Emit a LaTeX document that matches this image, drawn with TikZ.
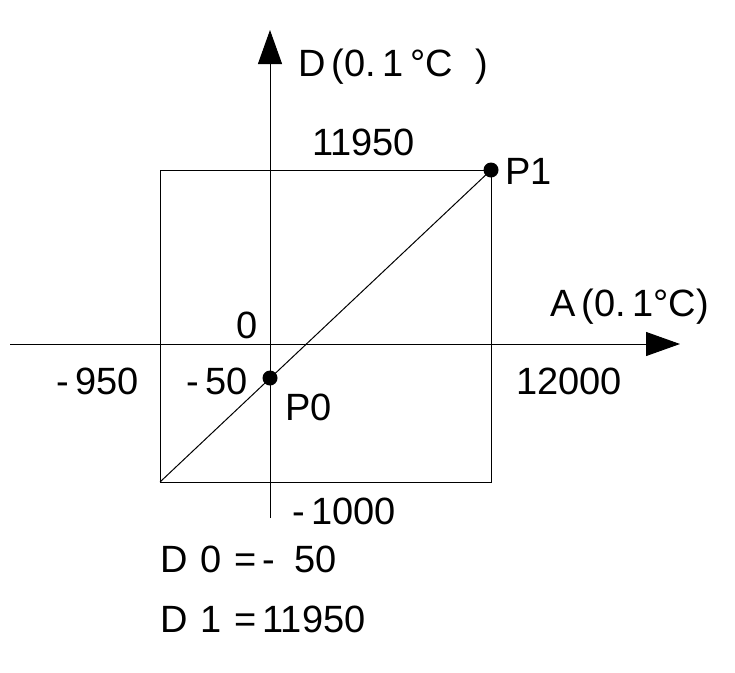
\documentclass[tikz,border=0pt]{standalone}
\usepackage{fontspec}
\setmainfont{Liberation Sans}
\usetikzlibrary{arrows.meta}
\begin{document}
\begin{tikzpicture}[x=1pt,y=-1pt,
  lbl/.style={font=\fontsize{38}{44}\selectfont, inner sep=0pt, anchor=base west},
  ax/.style={line width=1pt, -{Triangle[length=34pt,width=24pt]}},
  thin/.style={line width=1pt},
  dot/.style={circle, fill=black, inner sep=0pt, minimum size=15pt}]
\useasboundingbox (0,0) rectangle (735,672);
\coordinate (xs) at (10,344); \coordinate (xe) at (680,344);
\coordinate (ys) at (270,518); \coordinate (ye) at (270,30);
\draw[ax] (xs) -- (xe);
\draw[ax] (ys) -- (ye);
\coordinate (bl) at (160,482); \coordinate (tr) at (491,170);
\draw[thin] (bl) rectangle (tr);
\draw[thin] (bl) -- (tr);
\node[dot] (p1) at (491,170) {};
\node[dot] (p0) at (270,378) {};
\node[lbl] (d) at (298,76) {D\,(0.\,1\,°C\,\, )};
\node[lbl] (t1) at (312,155) {11950};
\node[lbl] (lp1) at (505,184) {P1};
\node[lbl] (a) at (550,316) {A\,(0.\,1°C)};
\node[lbl] (z) at (236,338) {0};
\node[lbl] (m950) at (56,394) {-\,950};
\node[lbl] (m50) at (186,394) {-\,50};
\node[lbl] (lp0) at (285,420) {P0};
\node[lbl] (t12) at (516,394) {12000};
\node[lbl] (m1000) at (292,524) {-\,1000};
\node[lbl] (e0) at (160,572) {D\,\,0\,\,=\,-\,\,\,50};
\node[lbl] (e1) at (160,632) {D\,\,1\,\,=\,11950};
\end{tikzpicture}
\end{document}
